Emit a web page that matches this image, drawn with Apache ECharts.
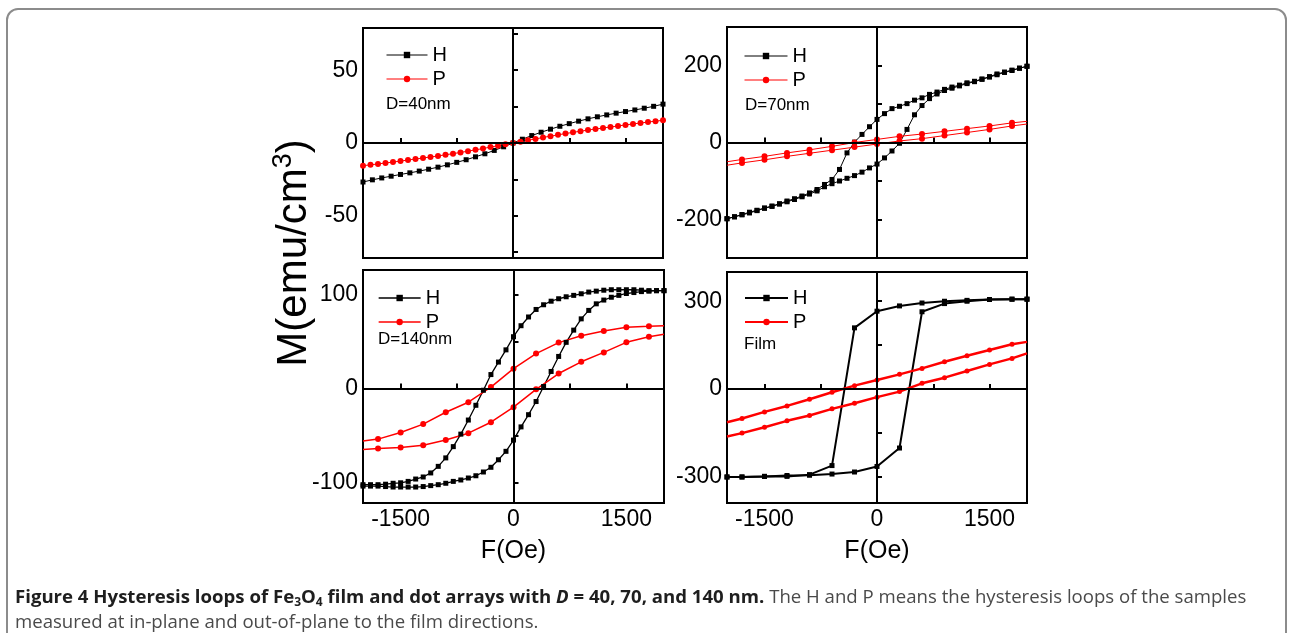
<!DOCTYPE html>
<html>
<head>
<meta charset="utf-8">
<script src="https://cdn.jsdelivr.net/npm/echarts@6/dist/echarts.min.js"></script>
<style>
html,body{margin:0;padding:0;background:#fff;width:1292px;height:633px;overflow:hidden}
#frame{position:absolute;left:6px;top:8px;width:1281px;height:700px;border:2px solid #8c8c8c;border-radius:12px;box-sizing:border-box}
#chart{position:absolute;left:0;top:0;width:1292px;height:633px}
#caption{position:absolute;left:15px;top:583px;white-space:nowrap;font-family:'Open Sans',sans-serif;font-size:18.6px;line-height:25px;color:#4a4a4a}
#caption b{color:#1e1e1e}
#caption sub{font-size:12px;line-height:0;vertical-align:-3px}
</style>
</head>
<body>
<div id="frame"></div>
<div id="chart"></div>
<div id="caption"><b>Figure 4 Hysteresis loops of Fe<sub>3</sub>O<sub>4</sub> film and dot arrays with <i>D</i> = 40, 70, and 140 nm.</b> The H and P means the hysteresis loops of the samples<br>measured at in-plane and out-of-plane to the film directions.</div>
<script>
// ---------- tick labels ----------
const X_TICKS = [-1500, -750, 0, 750, 1500];
const X_LABELS = [-1500, 0, 1500];
const TL_Y_TICKS = [-75, -50, -25, 0, 25, 50, 75];
const TL_Y_LABELS = [-50, 0, 50];
const TR_Y_TICKS = [-200, -100, 0, 100, 200];
const TR_Y_LABELS = [-200, 0, 200];
const BL_Y_TICKS = [-100, -50, 0, 50, 100];
const BL_Y_LABELS = [-100, 0, 100];
const BR_Y_TICKS = [-300, -150, 0, 150, 300];
const BR_Y_LABELS = [-300, 0, 300];
const PANEL_NOTES = ['D=40nm', 'D=70nm', 'D=140nm', 'Film'];

// ---------- D = 40 nm ----------
const TL_FIELD_H = [-2000,-1875,-1750,-1625,-1500,-1375,-1250,-1125,-1000,-875,-750,-625,-500,-375,-250,-125,0,125,250,375,500,625,750,875,1000,1125,1250,1375,1500,1625,1750,1875,2000];
const TL_H = [-26.8,-25.3,-24,-22.8,-21.6,-20.5,-19.3,-18,-16.6,-15,-13.3,-11.5,-9.5,-7.4,-5.1,-2.6,0,2.6,5.1,7.4,9.5,11.5,13.3,15,16.6,18,19.3,20.5,21.6,22.7,23.9,25.2,26.7];
const TL_FIELD_P = [-2000,-1900,-1800,-1700,-1600,-1500,-1400,-1300,-1200,-1100,-1000,-900,-800,-700,-600,-500,-400,-300,-200,-100,0,100,200,300,400,500,600,700,800,900,1000,1100,1200,1300,1400,1500,1600,1700,1800,1900,2000];
const TL_P = [-15.6,-15,-14.4,-13.7,-13.1,-12.4,-11.7,-11,-10.3,-9.6,-8.9,-8.1,-7.3,-6.5,-5.6,-4.7,-3.8,-2.8,-1.9,-0.9,0,0.9,1.9,2.8,3.8,4.7,5.6,6.5,7.3,8.1,8.9,9.6,10.3,11,11.7,12.4,13.1,13.7,14.4,15,15.6];

// ---------- D = 70 nm ----------
const TR_FIELD_H = [-2000,-1900,-1800,-1700,-1600,-1500,-1400,-1300,-1200,-1100,-1000,-900,-800,-700,-600,-500,-400,-300,-200,-100,0,100,200,300,400,500,600,700,800,900,1000,1100,1200,1300,1400,1500,1600,1700,1800,1900,2000];
const TR_H_DOWN = [-198,-193,-187,-181,-176,-170,-165,-159,-152,-146,-139,-131,-122,-109,-96,-70,-27,1,21,41,60,75,88,94,101,110,116,125,131,138,144,149,155,159,165,171,178,183,188,193,198];
const TR_H_UP = [-198,-193,-188,-183,-177,-171,-166,-160,-154,-148,-141,-134,-126,-115,-107,-100,-93,-86,-77,-66,-56,-40,-22,-2,34,72,96,114,126,135,141,147,153,158,164,170,176,182,187,193,198];
const TR_FIELD_P = [-2000,-1800,-1500,-1200,-900,-600,-300,0,300,600,900,1200,1500,1800,2000];
const TR_P_DOWN = [-50,-44,-36,-27,-19,-10,0,8,16,22,29,36,43,51,55];
const TR_P_UP = [-59,-53,-45,-36,-28,-20,-12,-4,4,10,18,26,34,43,48];

// ---------- D = 140 nm ----------
const BL_FIELD_H = [-2000,-1900,-1800,-1700,-1600,-1500,-1400,-1300,-1200,-1100,-1000,-900,-800,-700,-600,-500,-400,-300,-200,-100,0,100,200,300,400,500,600,700,800,900,1000,1100,1200,1300,1400,1500,1600,1700,1800,1900,2000];
const BL_H_DOWN = [-102.5,-102.5,-102.5,-102,-101,-100.5,-99,-96.5,-94.3,-90,-83,-74,-62,-48.7,-33.7,-18,-2,14.7,28,41,55,66.7,76,84,89,92.8,95.4,97.5,99,100.7,102.5,103.5,104.5,105,105,105,105,104.5,104,104,104];
const BL_H_UP = [-104,-104,-104,-104.5,-105,-105,-105,-105,-104.5,-103.5,-102.5,-101,-99,-97.5,-95.4,-93,-89,-84,-76,-67,-55,-41,-28,-14,2,18,34,49,62,74,83,90,94,97,99,101,102,103,103.5,104,104];
const BL_FIELD_P = [-2000,-1800,-1500,-1200,-900,-600,-300,0,300,600,900,1200,1500,1800,2000];
const BL_P_DOWN = [-56,-54,-47,-38,-25.4,-14.7,1.4,21,37,48.7,56,61,65,66,66.7];
const BL_P_UP = [-65,-64,-63,-60.6,-55,-47.7,-36,-20,-1,15.8,28.3,38.3,49,55,57.7];

// ---------- Film ----------
const BR_FIELD = [-2000,-1800,-1500,-1200,-900,-600,-300,0,300,600,900,1200,1500,1800,2000];
const BR_H_DOWN = [-301,-301,-299,-299,-293,-262,209,266,284,294,300,303,306,307,307];
const BR_H_UP = [-301,-301,-299,-296,-295,-291,-284,-265,-202,264,292,300,306,307,307];
const BR_P_DOWN = [-113.6,-101,-78.4,-58,-35,-11.4,11.4,30.7,50,70.4,93,113.6,133,153,161];
const BR_P_UP = [-162.5,-151,-130.7,-109,-91,-68,-49,-28,-9,19.3,38.6,61.4,84,104.5,121.7];

// ---------- build ----------
const FONT = "'Liberation Sans', Arial, sans-serif";
const BLACK = '#000000';
const RED = '#ff0000';
const plain = v => String(v);

const grids = [
  {left: 363, top: 28, width: 300, height: 230},
  {left: 727, top: 27, width: 300, height: 231},
  {left: 363, top: 270, width: 301, height: 233},
  {left: 727, top: 272, width: 300, height: 231}
].map(g => Object.assign(g, {show: true, borderColor: '#000', borderWidth: 2, backgroundColor: 'transparent', containLabel: false}));

function xAxisFor(i, showLabels) {
  return {
    type: 'value', gridIndex: i, min: -2000, max: 2000,
    axisLine: {show: false}, splitLine: {show: false},
    axisTick: {show: true, inside: true, length: 5, lineStyle: {color: '#000', width: 2}, customValues: X_TICKS},
    axisLabel: {show: showLabels, customValues: X_LABELS, formatter: plain, fontSize: 23, color: '#000', fontFamily: FONT, margin: 5},
    name: showLabels ? 'F(Oe)' : '', nameLocation: 'middle', nameGap: 36,
    nameTextStyle: {fontSize: 25, color: '#000', fontFamily: FONT}
  };
}
function yAxisFor(i, min, max, ticks, labels) {
  return {
    type: 'value', gridIndex: i, min: min, max: max,
    axisLine: {show: false}, splitLine: {show: false},
    axisTick: {show: true, inside: true, length: 5, lineStyle: {color: '#000', width: 2}, customValues: ticks},
    axisLabel: {show: true, customValues: labels, formatter: plain, fontSize: 23, color: '#000', fontFamily: FONT, margin: 5}
  };
}

function points(xs, ys, hideEdges) {
  return xs.map((x, i) => {
    const item = {value: [x, ys[i]]};
    if (hideEdges && Math.abs(x) >= 2000) item.symbol = 'none';
    return item;
  });
}
function lineSeries(name, gi, xs, ys, color, symbol, size, width, hideEdges) {
  return {
    type: 'line', name: name, xAxisIndex: gi, yAxisIndex: gi,
    data: points(xs, ys, hideEdges),
    symbol: symbol, symbolSize: size, showAllSymbol: true,
    lineStyle: {color: color, width: width},
    itemStyle: {color: color, borderWidth: 0},
    emphasis: {disabled: true},
    animation: false, clip: true
  };
}
function zeroLines() {
  return {
    silent: true, symbol: ['none', 'none'], label: {show: false},
    lineStyle: {color: '#000', width: 2, type: 'solid'},
    emphasis: {disabled: true},
    data: [{xAxis: 0}, {yAxis: 0}], animation: false
  };
}

const series = [];
// panel 0: D=40nm
let s = lineSeries('H', 0, TL_FIELD_H, TL_H, BLACK, 'rect', 5, 1, false);
s.markLine = zeroLines(); series.push(s);
series.push(lineSeries('P', 0, TL_FIELD_P, TL_P, RED, 'circle', 6, 1, false));
// panel 1: D=70nm
s = lineSeries('H', 1, TR_FIELD_H, TR_H_DOWN, BLACK, 'rect', 5, 1, false);
s.markLine = zeroLines(); series.push(s);
series.push(lineSeries('H', 1, TR_FIELD_H, TR_H_UP, BLACK, 'rect', 5, 1, false));
series.push(lineSeries('P', 1, TR_FIELD_P, TR_P_DOWN, RED, 'circle', 6, 1, true));
series.push(lineSeries('P', 1, TR_FIELD_P, TR_P_UP, RED, 'circle', 6, 1, true));
// panel 2: D=140nm
s = lineSeries('H', 2, BL_FIELD_H, BL_H_DOWN, BLACK, 'rect', 5, 1.3, false);
s.markLine = zeroLines(); series.push(s);
series.push(lineSeries('H', 2, BL_FIELD_H, BL_H_UP, BLACK, 'rect', 5, 1.3, false));
series.push(lineSeries('P', 2, BL_FIELD_P, BL_P_DOWN, RED, 'circle', 6, 1.5, true));
series.push(lineSeries('P', 2, BL_FIELD_P, BL_P_UP, RED, 'circle', 6, 1.5, true));
// panel 3: Film
s = lineSeries('H', 3, BR_FIELD, BR_H_DOWN, BLACK, 'rect', 5, 2, false);
s.markLine = zeroLines(); series.push(s);
series.push(lineSeries('H', 3, BR_FIELD, BR_H_UP, BLACK, 'rect', 5, 2, false));
series.push(lineSeries('P', 3, BR_FIELD, BR_P_DOWN, RED, 'circle', 5, 2.5, true));
series.push(lineSeries('P', 3, BR_FIELD, BR_P_UP, RED, 'circle', 5, 2.5, true));

function legendAt(left, top, w, lw) {
  return {
    left: left, top: top, orient: 'vertical', itemWidth: w, itemHeight: 8, itemGap: 4,
    selectedMode: false, padding: 0,
    textStyle: {fontSize: 20, lineHeight: 20, color: '#000', fontFamily: FONT},
    data: [
      {name: 'H', lineStyle: {width: lw}},
      {name: 'P', lineStyle: {width: lw}}
    ]
  };
}
const legends = [
  legendAt(386, 45, 41, 1),
  legendAt(744, 46, 43, 1),
  legendAt(378, 288, 42, 1.3),
  legendAt(744, 288, 43, 2)
];

const noteStyle = {fontSize: 17, fill: '#000', fontFamily: FONT};
const graphics = [
  {type: 'text', left: 386, top: 96, style: Object.assign({text: PANEL_NOTES[0]}, noteStyle)},
  {type: 'text', left: 745, top: 97, style: Object.assign({text: PANEL_NOTES[1]}, noteStyle)},
  {type: 'text', left: 378, top: 331, style: Object.assign({text: PANEL_NOTES[2]}, noteStyle)},
  {type: 'text', left: 744, top: 336, style: Object.assign({text: PANEL_NOTES[3]}, noteStyle)},
  {
    type: 'text', x: 293, y: 253, rotation: Math.PI / 2,
    style: {
      text: '{a|M(emu/cm}{s|3}{a|)}',
      align: 'center', verticalAlign: 'middle',
      rich: {
        a: {fontSize: 42, lineHeight: 45, fontFamily: FONT, fill: '#000', verticalAlign: 'bottom'},
        s: {fontSize: 27, lineHeight: 27, fontFamily: FONT, fill: '#000', verticalAlign: 'top'}
      }
    }
  }
];

const chart = echarts.init(document.getElementById('chart'), null, {renderer: 'canvas'});
chart.setOption({
  animation: false,
  textStyle: {fontFamily: FONT},
  grid: grids,
  xAxis: [xAxisFor(0, false), xAxisFor(1, false), xAxisFor(2, true), xAxisFor(3, true)],
  yAxis: [
    yAxisFor(0, -79, 79, TL_Y_TICKS, TL_Y_LABELS),
    yAxisFor(1, -300, 300, TR_Y_TICKS, TR_Y_LABELS),
    yAxisFor(2, -122, 126, BL_Y_TICKS, BL_Y_LABELS),
    yAxisFor(3, -390, 400, BR_Y_TICKS, BR_Y_LABELS)
  ],
  legend: legends,
  graphic: graphics,
  series: series
});
</script>
</body>
</html>
